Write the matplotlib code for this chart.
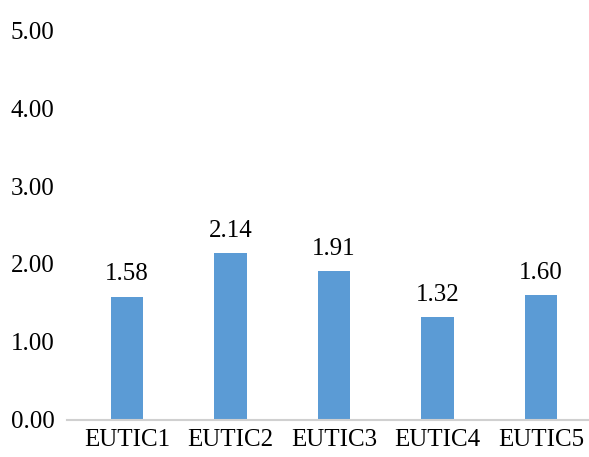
import matplotlib
matplotlib.use('Agg')
import matplotlib.pyplot as plt

# mean scores per item
labels = ['EUTIC1', 'EUTIC2', 'EUTIC3', 'EUTIC4', 'EUTIC5']
values = [1.58, 2.14, 1.91, 1.32, 1.60]
yticks = [0, 1, 2, 3, 4, 5]

plt.rcParams['font.family'] = ['Liberation Serif', 'DejaVu Serif']

W, H = 589, 457
fig = plt.figure(figsize=(W / 100, H / 100), dpi=100)
# plot area in pixels: left 67, right 589, y=0 at 419.5, y=5 at 30.5
ax = fig.add_axes([67 / W, (H - 419.5) / H, (589 - 67) / W, (419.5 - 30.5) / H])

x = list(range(len(labels)))
bars = ax.bar(x, values, width=0.31, color='#5B9BD5', zorder=2)

for xi, v in zip(x, values):
    ax.annotate('%.2f' % v, (xi, v), xytext=(0, 8), textcoords='offset points',
                ha='center', va='bottom', fontsize=18, color='#000000')

ax.set_xlim((67 - 127) / 103.5, (589 - 127) / 103.5)
ax.set_ylim(0, 5)
ax.set_yticks(yticks)
ax.set_yticklabels(['%.2f' % t for t in yticks])
ax.set_xticks(x)
ax.set_xticklabels(labels)
ax.tick_params(axis='both', length=0, labelsize=18, colors='#000000')
ax.tick_params(axis='y', pad=9)
ax.tick_params(axis='x', pad=7)

for side in ['top', 'right', 'left']:
    ax.spines[side].set_visible(False)
ax.spines['bottom'].set_color('#D0D0D0')
ax.spines['bottom'].set_linewidth(1.5)

fig.savefig('out.png', dpi=100)
